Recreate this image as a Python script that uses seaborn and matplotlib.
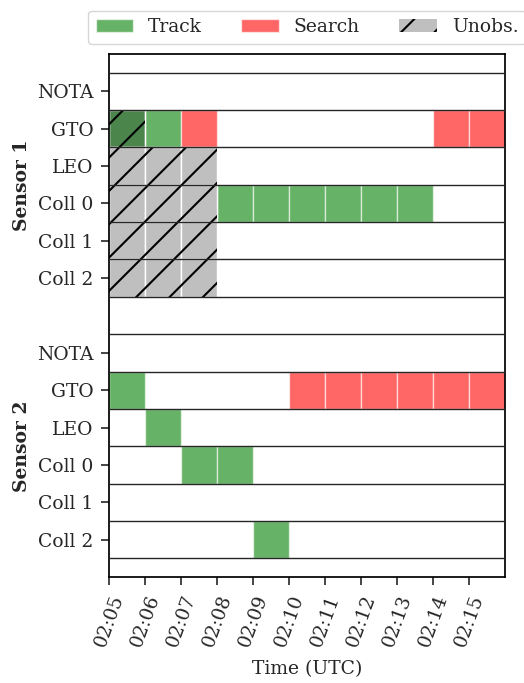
import datetime as dt
import matplotlib
matplotlib.use('Agg')
import matplotlib.pyplot as plt
import matplotlib.dates as mdates
from matplotlib.patches import Patch
from matplotlib.transforms import blended_transform_factory
import pandas as pd
import seaborn as sns

# row and sensor names
rows = ['NOTA', 'GTO', 'LEO', 'Coll 0', 'Coll 1', 'Coll 2']
sensors = ['Sensor 1', 'Sensor 2']

# time window and tick labels
t_start = '02:05'
t_end = '02:16'
tick_times = ['02:05', '02:06', '02:07', '02:08', '02:09', '02:10',
              '02:11', '02:12', '02:13', '02:14', '02:15']

# 1 minute slots, keyed by row, value = slot start
s1_track = {'GTO': ['02:05', '02:06'],
            'Coll 0': ['02:08', '02:09', '02:10', '02:11', '02:12', '02:13']}
s1_search = {'GTO': ['02:07', '02:14', '02:15']}
s1_unobs = {'GTO': ['02:05'],
            'LEO': ['02:05', '02:06', '02:07'],
            'Coll 0': ['02:05', '02:06', '02:07'],
            'Coll 1': ['02:05', '02:06', '02:07'],
            'Coll 2': ['02:05', '02:06', '02:07']}

s2_track = {'GTO': ['02:05'], 'LEO': ['02:06'],
            'Coll 0': ['02:07', '02:08'], 'Coll 2': ['02:09']}
s2_search = {'GTO': ['02:10', '02:11', '02:12', '02:13', '02:14', '02:15']}
s2_unobs = {}

day = dt.date(2021, 1, 1)
fs = 13.5


def tnum(s):
    h, m = s.split(':')
    return mdates.date2num(dt.datetime.combine(day, dt.time(int(h), int(m))))


# flatten into one table of cells
recs = []
for si, (tr, se, un) in enumerate([(s1_track, s1_search, s1_unobs),
                                   (s2_track, s2_search, s2_unobs)]):
    for kind, d in [('Track', tr), ('Search', se), ('Unobs.', un)]:
        for r, slots in d.items():
            for s in slots:
                recs.append({'sensor': si, 'row': r, 'kind': kind,
                             'y': si * (len(rows) + 1) + rows.index(r),
                             'x': tnum(s)})
df = pd.DataFrame(recs)

sns.set_style('ticks')
plt.rcParams['font.family'] = ['DejaVu Serif']
plt.rcParams['hatch.linewidth'] = 1.5

fig = plt.figure(figsize=(5.24, 6.83), dpi=100)
ax = fig.add_axes([0.208, 0.1552, 0.7557, 0.7657])

w = 1 / 1440.0
colors = {'Track': 'green', 'Search': 'red'}
for kind in ['Track', 'Search']:
    sub = df[df.kind == kind]
    ax.barh(sub.y, w, left=sub.x, height=1, color=colors[kind], alpha=0.6,
            edgecolor='white', linewidth=1)

# unobserved slots: grey shade plus a hatch layer on top
un = df[df.kind == 'Unobs.']
ax.barh(un.y, w, left=un.x, height=1, color=(0, 0, 0, 0.25),
        edgecolor='white', linewidth=1)
ax.barh(un.y, w, left=un.x, height=1, fill=False, edgecolor='black',
        linewidth=0, hatch='/')

n_tot = 2 * len(rows) + 1
for b in range(n_tot + 1):
    ax.axhline(b - 0.5, color='0.15', lw=1, zorder=3)

ax.set_ylim(n_tot, -1)
ax.set_xlim(tnum(t_start), tnum(t_end))

yt = [si * (len(rows) + 1) + i for si in range(2) for i in range(len(rows))]
ax.set_yticks(yt)
ax.set_yticklabels(rows * 2, fontsize=fs)
ax.set_xticks([tnum(t) for t in tick_times])
ax.xaxis.set_major_formatter(mdates.DateFormatter('%H:%M'))
plt.setp(ax.get_xticklabels(), rotation=70, ha='center', fontsize=fs)
ax.set_xlabel('Time (UTC)', fontsize=fs, labelpad=8)
ax.tick_params(length=6, width=1.2, pad=5)
for sp in ax.spines.values():
    sp.set_linewidth(1.25)
    sp.set_color('black')

trans = blended_transform_factory(ax.transAxes, ax.transData)
for si, name in enumerate(sensors):
    yc = si * (len(rows) + 1) + (len(rows) - 1) / 2
    ax.text(-0.22, yc, name, rotation=90, va='center', ha='center',
            fontsize=fs, fontweight='bold', transform=trans)

handles = [Patch(facecolor='green', alpha=0.6, edgecolor='white'),
           Patch(facecolor='red', alpha=0.6, edgecolor='white'),
           Patch(facecolor=(0, 0, 0, 0.25), edgecolor='black', linewidth=0,
                 hatch='/')]
ax.legend(handles, ['Track', 'Search', 'Unobs.'], loc='lower center',
          bbox_to_anchor=(0.5, 1.0), ncol=3, fontsize=fs, handlelength=2.0,
          handletextpad=0.8, columnspacing=2.1, borderaxespad=0.55)

fig.savefig('out.png', dpi=100)
